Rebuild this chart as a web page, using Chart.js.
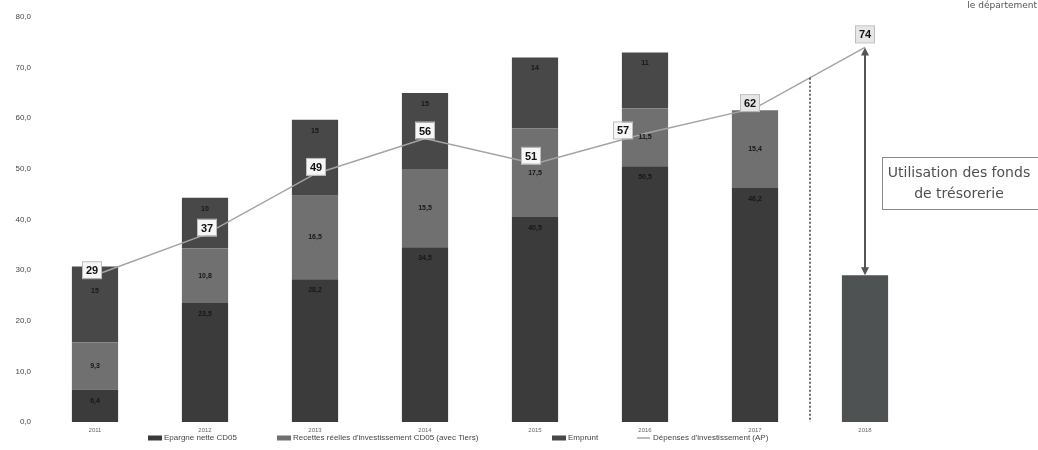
<!DOCTYPE html>
<html lang="fr">
<head>
<meta charset="utf-8">
<title>Financement des investissements</title>
<script src="https://cdn.jsdelivr.net/npm/chart.js@4.4.0/dist/chart.umd.min.js"></script>
<style>
  html, body { margin: 0; padding: 0; background: #fff; }
  #graphique { display: block; }
</style>
</head>
<body>
<canvas id="graphique" width="1038" height="450"></canvas>
<script>
// === DONNÉES ===
const annees = ['2011', '2012', '2013', '2014', '2015', '2016', '2017', '2018'];
const epargneNette = [6.4, 23.5, 28.2, 34.5, 40.5, 50.5, 46.2, null];
const recettesInvest = [9.3, 10.8, 16.5, 15.5, 17.5, 11.5, 15.4, null];
const emprunt = [15, 10, 15, 15, 14, 11, null, null];
const fondsTresorerie = [null, null, null, null, null, null, null, 29];
const depensesInvest = [29, 37, 49, 56, 51, 57, 62, 74];

const libelles = [
  'Epargne nette CD05',
  "Recettes réelles d'investissement CD05 (avec Tiers)",
  'Emprunt',
  "Dépenses d'investissement (AP)"
];

// === STYLE ===
const couleurs = ['#3b3b3b', '#707070', '#484848', '#a4a4a4'];
const couleurTresorerie = '#4f5252';
// décalage des étiquettes de la courbe par rapport au point
const decalages = [[-3, -5], [2, -7], [1, -7], [0, -8], [-4, -8], [-22, -3], [-5, -5], [0, -13]];
const xLegende = [148, 277, 552, 637];

const virgule = v => String(v).replace('.', ',');

// DÉCOR : étiquettes, séparateur, flèche, encadré, légende
const decor = {
  id: 'decor',
  afterDatasetsDraw(chart) {
    const ctx = chart.ctx;
    const x = chart.scales.x, y = chart.scales.y;
    ctx.save();

    // valeurs dans les segments des barres
    ctx.font = 'bold 7px "Liberation Sans"';
    ctx.fillStyle = '#161616';
    ctx.textAlign = 'center';
    ctx.textBaseline = 'middle';
    [0, 1, 2].forEach(i => {
      const meta = chart.getDatasetMeta(i);
      meta.data.forEach((barre, j) => {
        const v = chart.data.datasets[i].data[j];
        if (v == null) return;
        let ty = i === 1 ? (barre.y + barre.base) / 2 : barre.y + 11;
        // sous l'étiquette de la courbe quand elle chevauche le haut de la barre
        if (i === 2 && j === 0) ty = barre.y + 24;
        ctx.fillText(virgule(v), barre.x, ty);
      });
    });

    // séparateur pointillé entre réalisé et prévision
    const xSep = (x.getPixelForValue(6) + x.getPixelForValue(7)) / 2;
    const ySep = y.getPixelForValue((depensesInvest[6] + depensesInvest[7]) / 2);
    ctx.strokeStyle = '#3c3c3c';
    ctx.lineWidth = 1.5;
    ctx.setLineDash([2, 2]);
    ctx.beginPath();
    ctx.moveTo(xSep, ySep);
    ctx.lineTo(xSep, y.bottom);
    ctx.stroke();
    ctx.setLineDash([]);

    // double flèche : dépenses 2018 -> trésorerie
    const xF = x.getPixelForValue(7);
    const yHaut = y.getPixelForValue(depensesInvest[7]);
    const yBas = y.getPixelForValue(fondsTresorerie[7]);
    ctx.strokeStyle = '#555';
    ctx.fillStyle = '#555';
    ctx.lineWidth = 2;
    ctx.beginPath();
    ctx.moveTo(xF, yHaut + 5);
    ctx.lineTo(xF, yBas - 5);
    ctx.stroke();
    ctx.beginPath();
    ctx.moveTo(xF, yHaut);
    ctx.lineTo(xF - 4, yHaut + 8);
    ctx.lineTo(xF + 4, yHaut + 8);
    ctx.closePath();
    ctx.fill();
    ctx.beginPath();
    ctx.moveTo(xF, yBas);
    ctx.lineTo(xF - 4, yBas - 8);
    ctx.lineTo(xF + 4, yBas - 8);
    ctx.closePath();
    ctx.fill();

    // étiquettes de la courbe des dépenses
    const ligne = chart.getDatasetMeta(4);
    ctx.font = 'bold 11px "Liberation Sans"';
    ligne.data.forEach((pt, j) => {
      const cx = pt.x + decalages[j][0];
      const cy = pt.y + decalages[j][1];
      const dehors = j >= 6;
      ctx.fillStyle = dehors ? '#e6e6e6' : '#f6f6f6';
      ctx.fillRect(cx - 9, cy - 8, 18, 16);
      ctx.strokeStyle = '#bdbdbd';
      ctx.lineWidth = 1;
      ctx.strokeRect(cx - 9.5, cy - 8.5, 19, 17);
      ctx.fillStyle = '#111';
      ctx.fillText(String(depensesInvest[j]), cx, cy + 1);
    });

    // encadré
    ctx.strokeStyle = '#8a8a8a';
    ctx.lineWidth = 1;
    ctx.strokeRect(882.5, 157.5, 160, 52);
    ctx.fillStyle = '#505050';
    ctx.font = '14px "DejaVu Sans"';
    ctx.fillText('Utilisation des fonds', 959, 173);
    ctx.fillText('de trésorerie', 959, 194);

    // mention en haut à droite
    ctx.font = '9px "DejaVu Sans"';
    ctx.textAlign = 'right';
    ctx.fillStyle = '#555';
    ctx.fillText('le département', 1037, 6);

    // légende
    ctx.font = '8px "Liberation Sans"';
    ctx.textAlign = 'left';
    const yL = 438;
    libelles.forEach((txt, i) => {
      const x0 = xLegende[i];
      if (i === 3) {
        ctx.strokeStyle = couleurs[3];
        ctx.lineWidth = 1.5;
        ctx.beginPath();
        ctx.moveTo(x0, yL);
        ctx.lineTo(x0 + 13, yL);
        ctx.stroke();
      } else {
        ctx.fillStyle = couleurs[i];
        ctx.fillRect(x0, yL - 2.5, 14, 5);
      }
      ctx.fillStyle = '#444';
      ctx.fillText(txt, x0 + 16, yL);
    });

    ctx.restore();
  }
};

new Chart(document.getElementById('graphique'), {
  type: 'bar',
  data: {
    labels: annees,
    datasets: [
      { label: libelles[0], data: epargneNette, backgroundColor: couleurs[0], order: 1 },
      { label: libelles[1], data: recettesInvest, backgroundColor: couleurs[1], order: 1 },
      { label: libelles[2], data: emprunt, backgroundColor: couleurs[2], order: 1 },
      { label: 'Fonds de trésorerie', data: fondsTresorerie, backgroundColor: couleurTresorerie, order: 1 },
      {
        type: 'line',
        label: libelles[3],
        data: depensesInvest,
        borderColor: couleurs[3],
        borderWidth: 1.5,
        pointRadius: 0,
        tension: 0,
        fill: false,
        order: 0
      }
    ]
  },
  options: {
    responsive: false,
    animation: false,
    devicePixelRatio: 1,
    layout: { padding: { left: 0, right: 118, top: 17, bottom: 0 } },
    datasets: { bar: { barPercentage: 0.42, categoryPercentage: 1 } },
    plugins: {
      legend: { display: false },
      tooltip: { enabled: false }
    },
    scales: {
      x: {
        stacked: true,
        grid: { display: false, drawTicks: false },
        border: { display: false },
        ticks: { color: '#666', font: { size: 6, family: 'Liberation Sans' }, padding: 5 },
        afterFit: s => { s.height = 28; }
      },
      y: {
        stacked: true,
        min: 0,
        max: 80,
        grid: { display: false, drawTicks: false },
        border: { display: false },
        ticks: {
          stepSize: 10,
          color: '#444',
          font: { size: 8, family: 'Liberation Sans' },
          padding: 9,
          callback: v => v.toFixed(1).replace('.', ',')
        },
        afterFit: s => { s.width = 40; }
      }
    }
  },
  plugins: [decor]
});
</script>
</body>
</html>
